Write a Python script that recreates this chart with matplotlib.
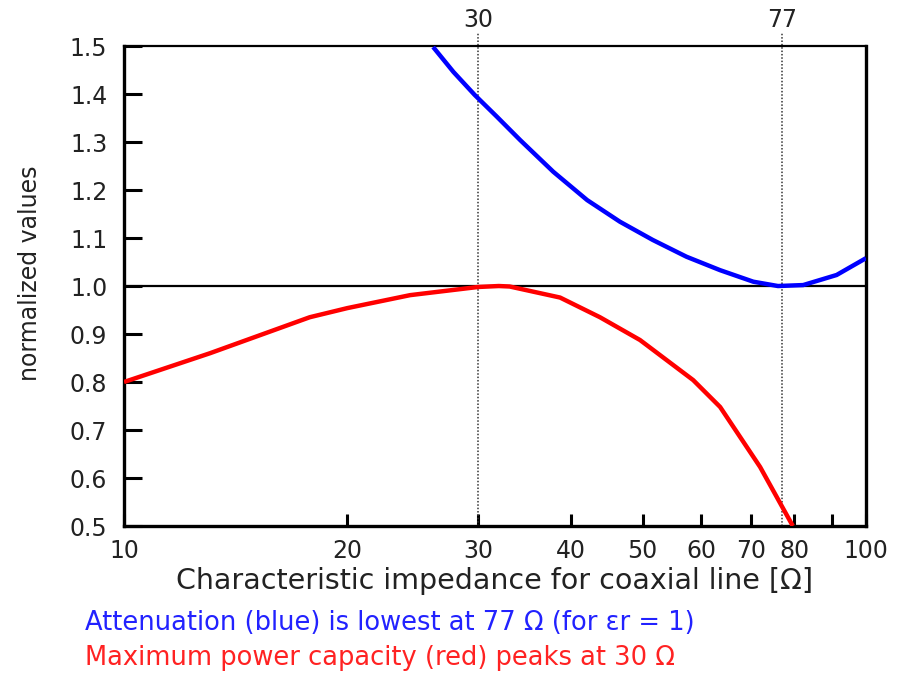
import matplotlib
matplotlib.use("Agg")
import matplotlib.pyplot as plt
from matplotlib.ticker import FixedLocator, NullLocator

plt.rcParams["font.family"] = ["DejaVu Sans"]

# attenuation (blue)
z_att = [26.1, 27.8, 29.7, 31.8, 34.2, 37.9, 42.1, 46.6, 51.6, 57.3, 63.6, 70.5, 76.1, 82.3, 91.3, 100]
att = [1.498, 1.446, 1.398, 1.353, 1.304, 1.238, 1.179, 1.134, 1.096, 1.061, 1.033, 1.009, 1.0, 1.002, 1.023, 1.058]

# power capacity (red)
z_pow = [10, 13.06, 17.8, 20, 24.3, 30, 32, 33.1, 38.7, 43.8, 49.6, 58.5, 63.6, 72, 79.7]
pwr = [0.80, 0.86, 0.935, 0.954, 0.981, 0.998, 1.0, 0.999, 0.976, 0.935, 0.8875, 0.804, 0.748, 0.623, 0.50]

xtick_vals = [10, 20, 30, 40, 50, 60, 70, 80, 90, 100]
xtick_labels = ["10", "20", "30", "40", "50", "60", "70", "80", "", "100"]
ytick_vals = [0.5, 0.6, 0.7, 0.8, 0.9, 1.0, 1.1, 1.2, 1.3, 1.4, 1.5]
top_vals = [30, 77]

fig = plt.figure(figsize=(9.01, 6.73), dpi=100)
ax = fig.add_axes([0.1376, 0.2184, 0.8235, 0.7132])

ax.plot(z_att, att, color="blue", lw=3.2, solid_capstyle="butt", zorder=4)
ax.plot(z_pow, pwr, color="red", lw=3.2, solid_capstyle="butt", zorder=4)
ax.axhline(1.0, color="black", lw=1.6, zorder=3)
for v in top_vals:
    ax.axvline(v, ymin=0, ymax=1.028, color="#333333", lw=1.1, ls=(0, (1, 1.2)),
               clip_on=False, zorder=2)

ax.set_xscale("log")
ax.set_xlim(10, 100)
ax.set_ylim(0.5, 1.5)

ax.xaxis.set_major_locator(FixedLocator(xtick_vals))
ax.xaxis.set_minor_locator(NullLocator())
ax.set_xticklabels(xtick_labels)
ax.set_yticks(ytick_vals)
ax.set_yticklabels([f"{v:.1f}" for v in ytick_vals])

ax.tick_params(axis="x", direction="in", length=9, width=2.2, pad=9,
               labelsize=17, labelcolor="#222222", top=False)
ax.tick_params(axis="y", direction="in", length=13, width=2.2, pad=12,
               labelsize=17, labelcolor="#222222", right=False)

for s in ["left", "bottom", "right"]:
    ax.spines[s].set_linewidth(2.4)
ax.spines["top"].set_linewidth(1.6)

top = ax.secondary_xaxis("top")
top.xaxis.set_major_locator(FixedLocator(top_vals))
top.xaxis.set_minor_locator(NullLocator())
top.set_xticklabels([str(v) for v in top_vals])
top.tick_params(axis="x", length=0, pad=10, labelsize=17, labelcolor="#222222")
top.spines["top"].set_visible(False)

ax.set_xlabel("Characteristic impedance for coaxial line [Ω]", fontsize=20.5,
              color="#222222", labelpad=3)
ax.set_ylabel("normalized values", fontsize=17, color="#222222", va="center")
ax.yaxis.set_label_coords(-0.127, 0.527)

fig.text(0.094, 0.075, "Attenuation (blue) is lowest at 77 Ω (for εr = 1)",
         color="#2222ff", fontsize=18.5, va="center")
fig.text(0.094, 0.022, "Maximum power capacity (red) peaks at 30 Ω",
         color="#ff2222", fontsize=18.5, va="center")

fig.savefig("out.png", dpi=100)
